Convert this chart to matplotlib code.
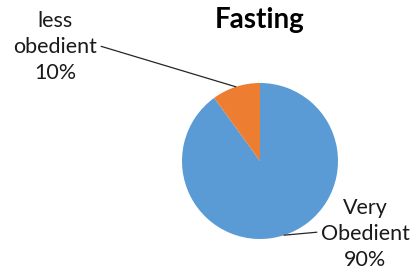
import numpy as np
import matplotlib.pyplot as plt

categories = ['Very\nObedient', 'less\nobedient']
values = [90, 10]
colors = ['#5B9BD5', '#ED7D31']
title = 'Fasting'

plt.rcParams['font.family'] = ['Lato', 'DejaVu Sans']

W, H = 412, 275
fig = plt.figure(figsize=(W / 100, H / 100), dpi=100)

# pie axes placed in pixel terms: centre (260, 161), radius 78
cx, cy, r = 260, 161, 78
ax = fig.add_axes([(cx - r) / W, (H - cy - r) / H, 2 * r / W, 2 * r / H])
wedges, _ = ax.pie(values, colors=colors, startangle=90, counterclock=False,
                   wedgeprops=dict(linewidth=0))
ax.set_xlim(-1, 1)
ax.set_ylim(-1, 1)
ax.set_aspect('equal')

total = sum(values)
# label anchors in figure pixels (top-down y), plus alignment
label_pos = [((321, 234), 'left', (0, 0.53)), ((97, 47), 'right', (1, 0.53))]
for w, cat, v, (pos, ha, rel) in zip(wedges, categories, values, label_pos):
    mid = np.deg2rad((w.theta1 + w.theta2) / 2)
    xy = (np.cos(mid), np.sin(mid))
    tx, ty = pos
    if ha == 'right':
        # elbow leader: horizontal from text, then diagonal to wedge
        wx, wy = ax.transData.transform(xy)
        ang = np.degrees(np.arctan2(wy - (H - ty - 2), wx - (tx + 13)))
        cs = f'angle,angleA=0,angleB={ang},rad=0'
    else:
        cs = 'arc3,rad=0'
    ax.annotate(f'{cat}\n{v / total:.0%}', xy=xy, xycoords='data',
                xytext=(tx / W, 1 - ty / H), textcoords='figure fraction',
                ha=ha, va='center', multialignment='center',
                fontsize=15.5, color='#1a1a1a', linespacing=1.38,
                arrowprops=dict(arrowstyle='-', color='#262626', lw=0.9,
                                shrinkA=1, shrinkB=0, relpos=rel,
                                connectionstyle=cs),
                annotation_clip=False)

fig.text(cx / W, 1 - 20 / H, title, ha='center', va='center',
         fontsize=20, fontweight='bold', color='black')

fig.savefig('out.png', dpi=100)
